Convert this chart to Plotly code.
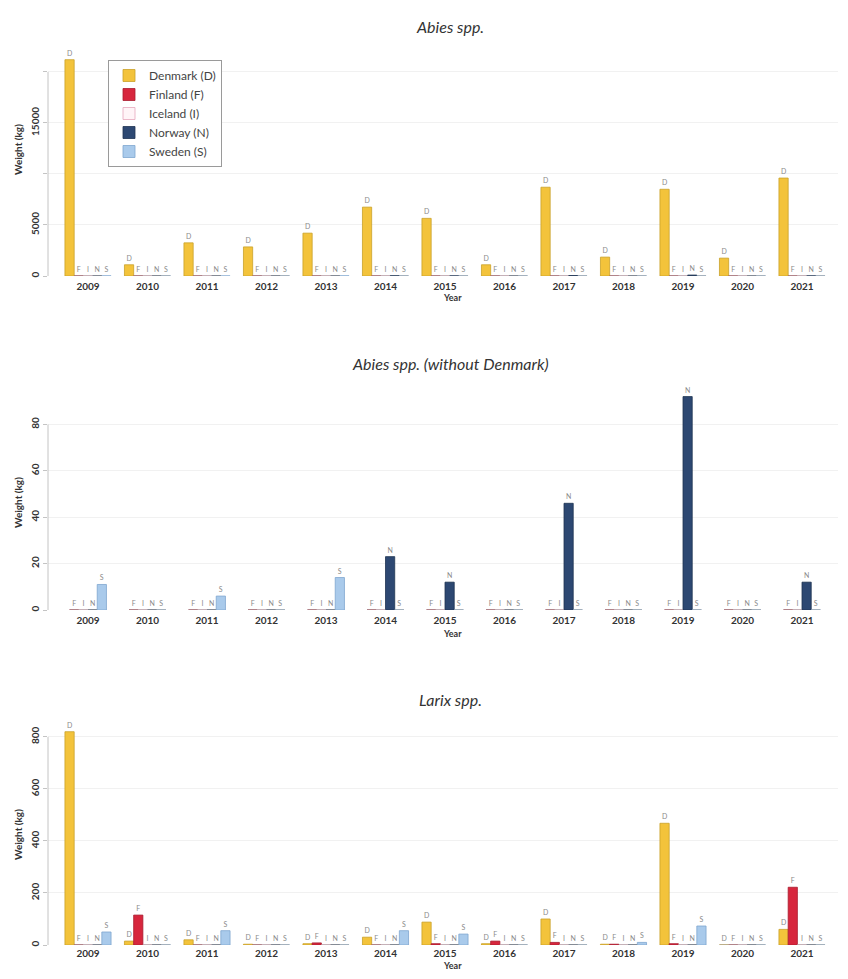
import plotly.graph_objects as go

years = ["2009", "2010", "2011", "2012", "2013", "2014", "2015", "2016", "2017", "2018", "2019", "2020", "2021"]
countries = ["Denmark (D)", "Finland (F)", "Iceland (I)", "Norway (N)", "Sweden (S)"]
letters = ["D", "F", "I", "N", "S"]

# Abies spp. (kg)
abies_D = [21200, 1100, 3250, 2850, 4200, 6750, 5650, 1100, 8700, 1850, 8500, 1750, 9600]
abies_F = [0, 0, 0, 0, 0, 0, 0, 0, 0, 0, 0, 0, 0]
abies_I = [0, 0, 0, 0, 0, 0, 0, 0, 0, 0, 0, 0, 0]
abies_N = [0, 0, 0, 0, 0, 23, 12, 0, 46, 0, 92, 0, 12]
abies_S = [11, 0, 6, 0, 14, 0, 0, 0, 0, 0, 0, 0, 0]

# Larix spp. (kg)
larix_D = [820, 15, 20, 3, 5, 30, 88, 5, 100, 3, 468, 0, 60]
larix_F = [0, 115, 0, 0, 8, 0, 5, 15, 10, 3, 5, 0, 222]
larix_I = [0, 0, 0, 0, 0, 0, 0, 0, 0, 0, 0, 0, 0]
larix_N = [0, 0, 0, 0, 0, 0, 0, 0, 0, 0, 0, 0, 0]
larix_S = [50, 0, 55, 0, 0, 55, 42, 0, 0, 10, 73, 0, 0]

top_ticks = [0, 5000, 10000, 15000, 20000]
top_ticktext = ["0", "5000", "", "15000", ""]
mid_ticks = [0, 20, 40, 60, 80]
bot_ticks = [0, 200, 400, 600, 800]

titles = ["Abies spp.", "Abies spp. (without Denmark)", "Larix spp."]

fill = ["#F3C33B", "#D7263D", "#FFF4F7", "#2D4872", "#A9CAEB"]
edge = ["#C9A12A", "#A81C2E", "#E6A7BC", "#1E3352", "#7FA6CF"]

# page body has an 8px margin; target positions below are in window pixels
OFF = 8
W, H = 848 - 2 * OFF, 979 - 2 * OFF


def fx(px):
    return (px - OFF) / W


def fy(py):
    return 1 - (py - OFF) / H


left_px, right_px = 48, 838
px_per_cat = 59.5
xr0 = -(88 - left_px) / px_per_cat
xr1 = xr0 + (right_px - left_px) / px_per_cat
bw = 0.155

panels = [
    dict(series=[abies_D, abies_F, abies_I, abies_N, abies_S], idx=[0, 1, 2, 3, 4],
         top=50, base=276, ymax=22150, ticks=top_ticks, ticktext=top_ticktext,
         title_y=27, ytitle_y=150, year_y=298, standoff=3),
    dict(series=[abies_F, abies_I, abies_N, abies_S], idx=[1, 2, 3, 4],
         top=385, base=610, ymax=97, ticks=mid_ticks, ticktext=[str(t) for t in mid_ticks],
         title_y=363, ytitle_y=503, year_y=633, standoff=3),
    dict(series=[larix_D, larix_F, larix_I, larix_N, larix_S], idx=[0, 1, 2, 3, 4],
         top=720, base=945, ymax=865, ticks=bot_ticks, ticktext=[str(t) for t in bot_ticks],
         title_y=699, ytitle_y=835, year_y=965, standoff=1),
]

fig = go.Figure()
shapes = []
annotations = []
font_fam = "Lato, 'Open Sans', sans-serif"

for p_i, p in enumerate(panels):
    sfx = "" if p_i == 0 else str(p_i + 1)
    xa, ya = "x" + sfx, "y" + sfx
    n = len(p["series"])
    for k, (vals, ci) in enumerate(zip(p["series"], p["idx"])):
        off = (k - n / 2) * bw
        fig.add_trace(go.Bar(
            x=years, y=vals, xaxis=xa, yaxis=ya,
            name=countries[ci], legendgroup=countries[ci],
            showlegend=(p_i == 0),
            width=bw, offset=off,
            marker=dict(color=fill[ci], line=dict(color=edge[ci], width=0.8)),
            text=[letters[ci]] * len(vals), textposition="outside",
            textfont=dict(size=7, color="#8a8a8a", family=font_fam),
            constraintext="none", cliponaxis=False,
            hoverinfo="x+y+name",
        ))
        for j, v in enumerate(vals):
            if v == 0:
                shapes.append(dict(type="line", xref=xa, yref=ya,
                                   x0=j + off, x1=j + off + bw, y0=0, y1=0,
                                   line=dict(color="#9a9a9a", width=1)))
    # y axis line from 0 to last tick (R style)
    shapes.append(dict(type="line", xref=xa + " domain", yref=ya,
                       x0=0, x1=0, y0=0, y1=max(p["ticks"]),
                       line=dict(color="#c4c4c4", width=1)))
    dom = [fy(p["base"]), fy(p["top"])]
    fig.layout["xaxis" + sfx] = dict(
        domain=[fx(left_px), fx(right_px)], range=[xr0, xr1], anchor=ya,
        type="category", showgrid=False, zeroline=False, showline=False, ticks="",
        tickfont=dict(size=10, color="#333", family=font_fam, weight="bold"),
        ticklabelstandoff=p["standoff"], fixedrange=True,
    )
    fig.layout["yaxis" + sfx] = dict(
        domain=dom, range=[0, p["ymax"]], anchor=xa,
        tickvals=p["ticks"], ticktext=p["ticktext"], tickangle=-90,
        ticks="outside", ticklen=4, tickcolor="#c4c4c4",
        tickfont=dict(size=10, color="#333", family=font_fam, weight="bold"),
        showgrid=True, gridcolor="#f1f1f1", gridwidth=1,
        zeroline=False, showline=False, fixedrange=True,
    )
    annotations.append(dict(text="<i>" + titles[p_i] + "</i>", xref="paper", yref="paper",
                            x=fx(450), y=fy(p["title_y"]), showarrow=False,
                            xanchor="center", yanchor="middle",
                            font=dict(size=16, color="#333", family=font_fam)))
    annotations.append(dict(text="<b>Weight (kg)</b>", xref="paper", yref="paper",
                            x=fx(18), y=fy(p["ytitle_y"]), showarrow=False, textangle=-90,
                            xanchor="center", yanchor="middle",
                            font=dict(size=10, color="#333", family=font_fam)))
    annotations.append(dict(text="<b>Year</b>", xref="paper", yref="paper",
                            x=fx(452), y=fy(p["year_y"]), showarrow=False,
                            xanchor="center", yanchor="middle",
                            font=dict(size=9, color="#333", family=font_fam)))

fig.update_layout(
    width=W, height=H, margin=dict(l=0, r=0, t=0, b=0),
    paper_bgcolor="white", plot_bgcolor="white",
    barmode="overlay",
    shapes=shapes, annotations=annotations,
    legend=dict(x=fx(108), y=fy(60), xanchor="left", yanchor="top",
                bordercolor="#9a9a9a", borderwidth=1, bgcolor="white",
                font=dict(size=12, color="#444", family=font_fam),
                tracegroupgap=0),
    font=dict(family=font_fam),
    showlegend=True,
)

fig.write_html("out.html")
